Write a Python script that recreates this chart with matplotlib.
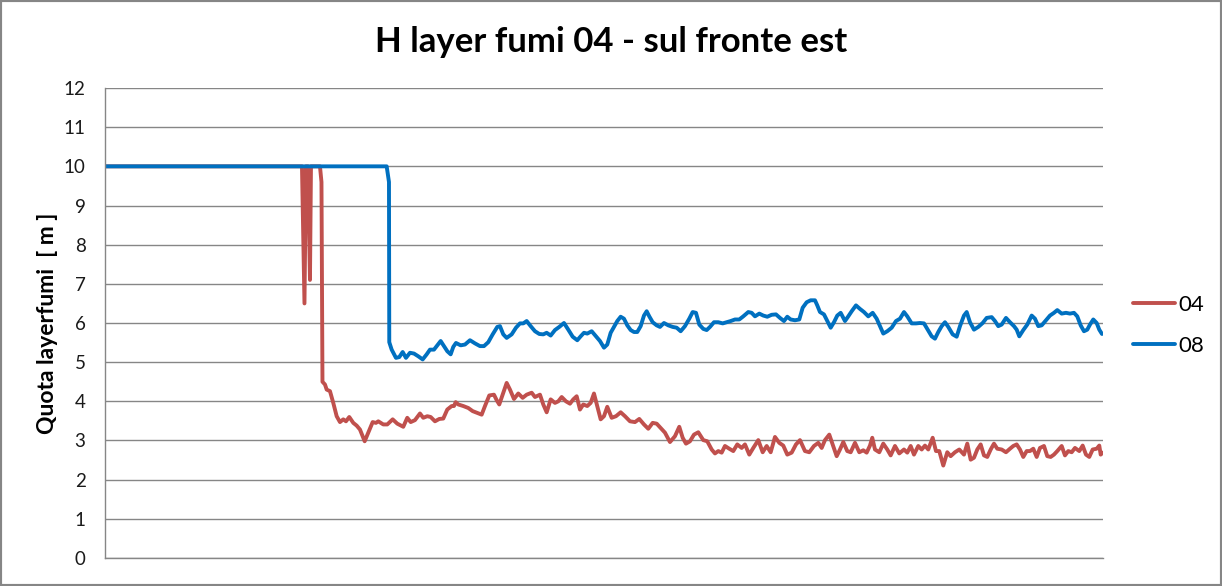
import matplotlib
matplotlib.use("Agg")
import matplotlib.pyplot as plt
from matplotlib.patches import Rectangle

# time axis (arbitrary units, no labels on the chart) and layer height [m]
t_04 = [0, 197, 199.5, 201, 203, 205, 206, 214, 215, 216.5, 217.5,
        220, 221.7, 225, 228.3, 231.7, 235, 238.3, 241, 244.3, 248.3, 251.7, 255, 259.7, 263.3,
        267.7, 271, 273.3, 278.3, 282.3, 287.7, 292.3, 298.3, 302.3, 305.7, 310, 315, 318.3,
        322.3, 325.7, 330, 334.3, 338.3, 342.3, 346.7, 349, 350.7, 353.3, 358.3, 363.3, 367.7,
        371.7, 376.7, 380, 384.3, 389, 391.7, 394.3,
        398.3, 401.7, 405, 409, 413.3, 417.7, 421.7, 426.7, 430, 435, 438.3, 441.7, 445.7, 450,
        453.3, 456.7, 461, 465, 468.3, 471.7, 475, 478.3, 482.3, 485.7, 489, 492.3, 495.7, 499,
        502.3, 506.7, 511, 515.7, 520, 525, 530, 534.3, 539, 543.3, 547.7, 551.7, 555.7, 560,
        565, 570, 574.3, 577.7, 581, 585, 589, 593.3,
        598.3, 602.3, 606.7, 610, 613.3, 616.7, 620, 624.3, 628.3, 632.3, 636.7, 640, 644.3,
        648.3, 653.3, 657.7, 661.7, 665.7, 670, 674.3, 678.3, 682.3, 686.7, 691, 695, 700,
        704.3, 709, 713.3, 716.7, 720, 724.3, 727.7, 731.7, 735, 738.3, 742.3, 745.7, 750,
        754.3, 758.3, 761.7, 765, 767.3, 770, 774.3, 778.3, 782.3, 785.7, 790, 794.3,
        799, 802.3, 805.7, 809, 813.3, 816.7, 820, 823.3, 827.7, 831, 834.3, 838.3, 842.3,
        845.7, 850, 854.3, 859, 862.3, 865.7, 869, 872.3, 875.7, 879, 882.3, 885.7, 889,
        892.3, 896.7, 901, 905, 908.3, 911.7, 915, 918.3, 921.7, 925, 928.3, 931.7, 935, 939,
        942.3, 945.7, 949, 952.3, 956.7, 960, 963.3, 966.7, 970, 974.3, 977.7, 981, 984.3,
        987.7, 991.7, 994.3, 995.7, 997.7]
h_04 = [10.0, 10.0, 6.5, 10.0, 10.0, 7.1, 10.0, 10.0, 10.0, 9.6, 4.5,
        4.43, 4.30, 4.26, 3.96, 3.62, 3.47, 3.54, 3.49, 3.60, 3.45, 3.38, 3.28, 2.98, 3.20,
        3.47, 3.45, 3.49, 3.41, 3.41, 3.54, 3.43, 3.35, 3.58, 3.47, 3.52, 3.69, 3.58,
        3.62, 3.60, 3.49, 3.55, 3.56, 3.79, 3.88, 3.88, 3.98, 3.92, 3.88, 3.83, 3.75,
        3.71, 3.66, 3.88, 4.15, 4.17, 4.03, 3.92,
        4.22, 4.47, 4.30, 4.06, 4.20, 4.09, 4.17, 4.22, 4.11, 4.17, 3.92, 3.72, 4.05, 3.96,
        4.00, 4.11, 4.00, 3.94, 4.05, 4.13, 3.79, 3.92, 3.88, 3.96, 4.20, 3.88, 3.54, 3.62,
        3.86, 3.58, 3.62, 3.72, 3.62, 3.49, 3.47, 3.55, 3.41, 3.30, 3.45, 3.43, 3.32, 3.20,
        2.96, 3.11, 3.35, 3.07, 2.92, 2.98, 3.15, 3.21,
        3.01, 2.98, 2.77, 2.67, 2.73, 2.69, 2.86, 2.79, 2.73, 2.90, 2.81, 2.90, 2.64,
        2.81, 3.01, 2.70, 2.86, 2.70, 3.09, 2.94, 2.87, 2.64, 2.69, 2.90, 3.01, 2.73,
        2.70, 2.86, 2.94, 2.81, 3.01, 3.15, 2.90, 2.60, 2.77, 2.96, 2.73, 2.70, 2.94,
        2.70, 2.75, 2.69, 2.87, 3.07, 2.77, 2.70, 2.92, 2.77, 2.62, 2.86, 2.67,
        2.77, 2.69, 2.86, 2.64, 2.86, 2.77, 2.87, 2.77, 3.07, 2.73, 2.73, 2.36, 2.70,
        2.60, 2.70, 2.77, 2.64, 2.92, 2.51, 2.56, 2.77, 2.90, 2.62, 2.58, 2.77, 2.92,
        2.79, 2.77, 2.70, 2.79, 2.86, 2.90, 2.77, 2.58, 2.73, 2.73, 2.79, 2.58, 2.81, 2.86,
        2.60, 2.58, 2.64, 2.73, 2.86, 2.62, 2.73, 2.70, 2.81, 2.73, 2.87, 2.64, 2.58,
        2.77, 2.79, 2.87, 2.64, 2.69]

t_08 = [0, 281.7, 284, 284.3, 286.7, 291, 294.3, 297.7, 301, 305, 309, 313.3, 317.7, 321.7,
        325, 329, 332.3, 335.7, 339, 342.3, 345.7, 348.3, 351, 355.7, 360, 365, 370, 375,
        379, 383.3, 387.7, 392.3, 395,
        398.3, 401.7, 406.7, 411, 415, 418.3, 421.7, 425.7, 430, 434.3, 438.3, 441.7, 445.7,
        450, 454.3, 459, 463.3, 467.7, 472.3, 475.7, 479, 482.3, 486.7, 491, 495, 499, 502.3,
        505.7, 509, 512.3, 515.7, 519, 522.3, 525.7, 529, 532.3, 535.7, 539, 541.7, 544.3,
        547.7, 551.7, 555, 559, 563.3, 567.7, 571.7, 575.7, 580, 584.3, 587.7, 591, 594.3,
        598.3, 601.7, 605, 609, 613.3, 617.7, 621.7, 625.7, 630, 634.3, 638.3, 643.3, 646.7,
        650, 654.3, 658.3, 662.3, 666.7, 671, 675, 679, 682.3, 685.7, 690, 694.3, 697.7,
        701.7, 705.7, 710, 712.3, 715, 719, 722.3, 725.7, 729, 732.3, 735.7, 740, 743.3,
        746.7, 751, 755, 759, 763.3, 767.7, 771.7, 775, 778.3, 782.3, 786.7, 791, 795,
        799, 802.3, 806.7, 811, 815, 819, 822.3, 826.7, 830, 833.3, 836.7, 840, 843.3,
        847.7, 851.7, 855, 859, 861.7, 865, 869, 873.3, 877.7, 881.7, 886.7, 890, 893.3,
        896.7, 901, 905, 909, 911.7, 914.3, 918.3, 922.3, 926.7, 930, 933.3, 936.7, 941,
        945, 949, 952.3, 956.7, 961, 965, 969, 972.3, 975.7, 979, 982.3, 985, 988.3, 991.7,
        994.3, 997]
h_08 = [10.0, 10.0, 9.6, 5.51, 5.32, 5.11, 5.13, 5.26, 5.11, 5.24, 5.22, 5.15, 5.07, 5.20,
        5.32, 5.32, 5.43, 5.54, 5.41, 5.28, 5.20, 5.39, 5.49, 5.43, 5.45, 5.56, 5.48, 5.41,
        5.41, 5.51, 5.71, 5.90, 5.92,
        5.71, 5.62, 5.71, 5.88, 5.99, 5.99, 6.05, 5.92, 5.79, 5.72, 5.71, 5.75, 5.68,
        5.82, 5.90, 6.00, 5.83, 5.65, 5.56, 5.66, 5.75, 5.73, 5.79, 5.66, 5.54, 5.37, 5.45,
        5.75, 5.90, 6.05, 6.16, 6.11, 5.94, 5.82, 5.77, 5.77, 5.92, 6.19, 6.30, 6.17,
        6.02, 5.94, 5.90, 6.00, 5.94, 5.90, 5.88, 5.79, 5.92, 6.11, 6.28, 6.26, 5.96,
        5.85, 5.82, 5.90, 6.02, 6.02, 5.99, 6.02, 6.05, 6.09, 6.09, 6.17, 6.28, 6.26,
        6.17, 6.24, 6.19, 6.16, 6.21, 6.22, 6.13, 6.05, 6.16, 6.09, 6.07, 6.09, 6.39,
        6.53, 6.58, 6.58, 6.45, 6.28, 6.22, 6.05, 5.88, 6.02, 6.19, 6.26, 6.05, 6.17,
        6.30, 6.45, 6.36, 6.28, 6.17, 6.26, 6.11, 5.92, 5.73, 5.79, 5.88, 6.05, 6.11,
        6.28, 6.17, 5.99, 5.99, 6.00, 5.99, 5.85, 5.66, 5.60, 5.77, 5.92, 6.02, 5.90,
        5.71, 5.65, 5.92, 6.19, 6.28, 6.02, 5.83, 5.90, 6.00, 6.13, 6.15, 6.05, 5.92,
        5.96, 6.13, 6.02, 5.92, 5.83, 5.66, 5.82, 5.96, 6.19, 6.11, 5.92, 5.94, 6.07,
        6.19, 6.26, 6.33, 6.24, 6.26, 6.24, 6.26, 6.17, 5.94, 5.79, 5.83, 5.96, 6.09, 6.00,
        5.83, 5.72]

series_names = ["04", "08"]
y_ticks = list(range(0, 13))

font = ["Lato", "DejaVu Sans"]
grid_col = "#868686"

fig = plt.figure(figsize=(12.22, 5.86), dpi=100)
ax = fig.add_axes([0.0859, 0.0478, 0.8167, 0.802])

ax.plot(t_04, h_04, color="#C0504D", lw=2.8, label=series_names[0],
        solid_joinstyle="round", solid_capstyle="round")
ax.plot(t_08, h_08, color="#0070C0", lw=2.8, label=series_names[1],
        solid_joinstyle="round", solid_capstyle="round")

ax.set_xlim(0, 998)
ax.set_ylim(0, 12)
ax.set_yticks(y_ticks)
ax.set_yticklabels([str(v) for v in y_ticks], family=font, fontsize=13.5, color="#1a1a1a")
ax.set_xticks([])
ax.tick_params(axis="y", length=0, pad=14)
ax.yaxis.grid(True, color=grid_col, lw=1)
ax.set_axisbelow(True)
for s in ["top", "right"]:
    ax.spines[s].set_visible(False)
for s in ["left", "bottom"]:
    ax.spines[s].set_color(grid_col)
    ax.spines[s].set_linewidth(1)

ax.set_ylabel("Quota layerfumi  [ m ]", family=font, fontsize=16.5, fontweight="bold", labelpad=4)
fig.suptitle("H layer fumi 04 - sul fronte est", family=font, fontsize=25, fontweight="bold",
             x=0.5, y=0.955)

ax.legend(loc="center left", bbox_to_anchor=(0.927, 0.445), bbox_transform=fig.transFigure,
          frameon=False, prop={"family": font, "size": 16}, handlelength=1.9,
          handletextpad=0.15, labelspacing=0.95, borderpad=0, borderaxespad=0)

fig.patches.append(Rectangle((0, 0), 1, 1, transform=fig.transFigure, fill=False,
                             edgecolor="#868686", lw=3))

fig.savefig("out.png", dpi=100)
